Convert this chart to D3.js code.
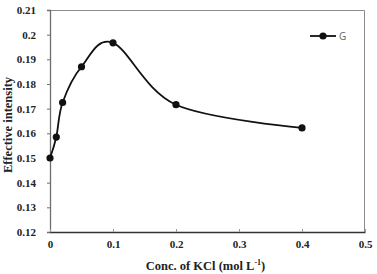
<!DOCTYPE html>
<html>
<head>
<meta charset="utf-8">
<script src="https://cdn.jsdelivr.net/npm/d3@7"></script>
<style>
  body { margin: 0; background: #fff; }
</style>
</head>
<body>
<div id="chart"></div>
<script>
// values
const conc = [0, 0.01, 0.02, 0.05, 0.1, 0.2, 0.4];
const intensity = [0.150, 0.1585, 0.1725, 0.187, 0.1967, 0.1716, 0.1622];
const xTicks = [0, 0.1, 0.2, 0.3, 0.4, 0.5];
const yTicks = [0.12, 0.13, 0.14, 0.15, 0.16, 0.17, 0.18, 0.19, 0.2, 0.21];
const seriesName = 'G';

const width = 377;
const height = 274;
const margins = {top: 10, right: 12, bottom: 42, left: 50};
const serif = '"Liberation Serif", "Times New Roman", serif';

const svg = d3.select('#chart')
  .append('svg')
  .attr('width', width)
  .attr('height', height)
  .append('g')
  .attr('transform', 'translate(' + margins.left + ',' + margins.top + ')');

const chartWidth = width - margins.left - margins.right;
const chartHeight = height - margins.top - margins.bottom;

const x = d3.scaleLinear().domain([0, 0.5]).range([0, chartWidth]);
const y = d3.scaleLinear().domain([0.12, 0.21]).range([chartHeight, 0]);

// frame on top and right
svg.append('path')
  .attr('d', `M0,0.5H${chartWidth - 0.5}V${chartHeight}`)
  .attr('fill', 'none')
  .attr('stroke', '#8c8c8c')
  .attr('stroke-width', 1);

// y axis
const yAxis = svg.append('g')
  .call(d3.axisLeft(y).tickValues(yTicks).tickSize(3).tickPadding(11)
    .tickFormat(d => d3.format('.2~f')(d)));
yAxis.select('.domain').attr('stroke', '#6e6e6e').attr('stroke-width', 1.3);
yAxis.selectAll('.tick line').attr('stroke', '#6e6e6e');

// x axis, ticks point inward
const xAxis = svg.append('g')
  .attr('transform', 'translate(0,' + chartHeight + ')')
  .call(d3.axisBottom(x).tickValues(xTicks).tickSizeInner(-3).tickSizeOuter(0).tickPadding(8)
    .tickFormat(d => d === 0 ? '0' : d3.format('.1f')(d)));
xAxis.select('.domain').attr('stroke', '#333').attr('stroke-width', 1.5);
xAxis.selectAll('.tick line').attr('stroke', '#999');

svg.selectAll('.tick text')
  .attr('font-family', serif)
  .attr('font-weight', 'bold')
  .attr('font-size', 11)
  .attr('fill', '#222');

// axis titles
svg.append('text')
  .attr('transform', `translate(${-38},${chartHeight / 2 + 4}) rotate(-90)`)
  .attr('text-anchor', 'middle')
  .attr('font-family', serif)
  .attr('font-weight', 'bold')
  .attr('font-size', 12.5)
  .attr('fill', '#222')
  .text('Effective intensity');

const xTitle = svg.append('text')
  .attr('x', chartWidth / 2 - 2)
  .attr('y', chartHeight + 38)
  .attr('text-anchor', 'middle')
  .attr('font-family', serif)
  .attr('font-weight', 'bold')
  .attr('font-size', 12.5)
  .attr('fill', '#222');
xTitle.append('tspan').text('Conc. of KCl (mol L');
xTitle.append('tspan').attr('font-size', 8).attr('dy', -5).text('-1');
xTitle.append('tspan').attr('dy', 5).text(')');

// series
const points = conc.map((c, i) => ({x: c, y: intensity[i]}));

const line = d3.line()
  .curve(d3.curveCardinal.tension(0))
  .x(d => x(d.x))
  .y(d => y(d.y));

svg.append('path')
  .datum(points)
  .attr('d', line)
  .attr('fill', 'none')
  .attr('stroke', '#111')
  .attr('stroke-width', 1.8);

svg.selectAll('.pt')
  .data(points)
  .enter()
  .append('circle')
  .attr('class', 'pt')
  .attr('cx', d => x(d.x))
  .attr('cy', d => y(d.y))
  .attr('r', 3.6)
  .attr('fill', '#111');

// legend
const legend = svg.append('g')
  .attr('transform', `translate(${chartWidth - 55},${26})`);
legend.append('line')
  .attr('x1', 0).attr('x2', 26)
  .attr('stroke', '#111').attr('stroke-width', 1.8);
legend.append('circle')
  .attr('cx', 13).attr('r', 3.6).attr('fill', '#111');
legend.append('text')
  .attr('x', 29).attr('y', 3.5)
  .attr('font-family', '"Open Sans", "Liberation Sans", sans-serif')
  .attr('font-size', 10)
  .attr('fill', '#666')
  .text(seriesName);
</script>
</body>
</html>
